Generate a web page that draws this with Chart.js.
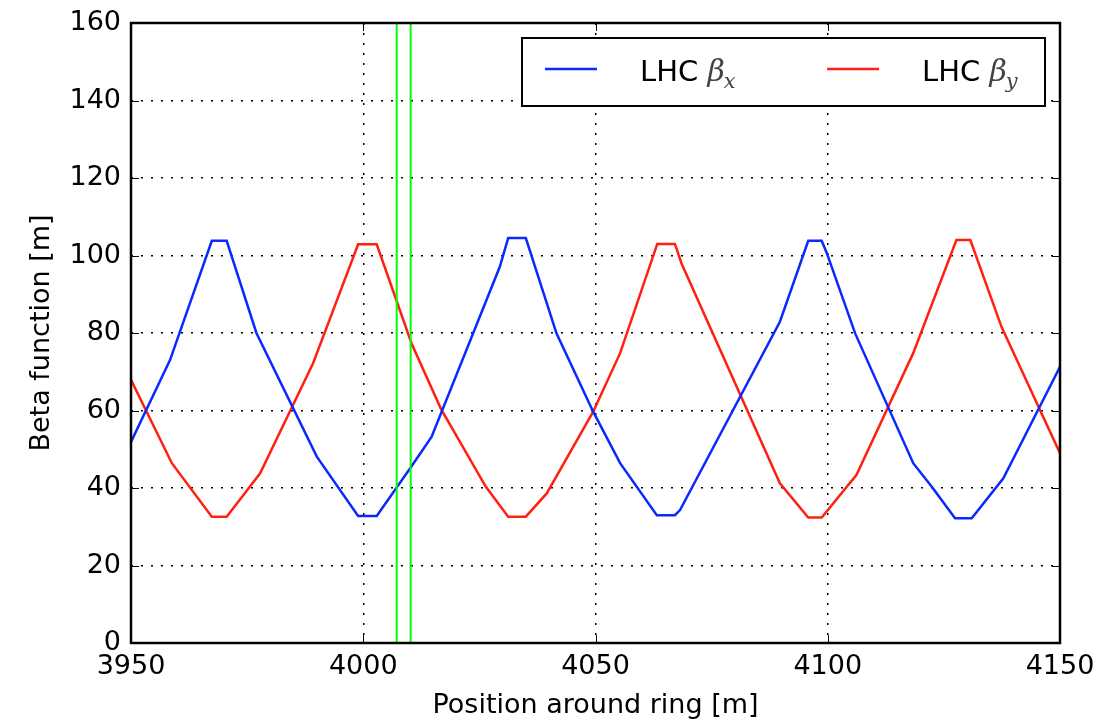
<!DOCTYPE html>
<html>
<head>
<meta charset="utf-8">
<script src="https://cdn.jsdelivr.net/npm/chart.js@4"></script>
<style>
  html, body { margin: 0; padding: 0; background: #fff; }
  #wrap { width: 1103px; height: 722px; }
</style>
</head>
<body>
<div id="wrap"><canvas id="myChart"></canvas></div>
<script>
// positions [m] and beta values [m]
var betaxPos = [3950, 3958.4, 3967.4, 3970.6, 3977.0, 3990.0, 3998.9, 4002.9, 4010.1, 4014.7, 4029.4, 4031.2, 4035.0, 4041.6, 4049.5, 4055.3, 4063.2, 4067.1, 4068.2, 4089.7, 4095.8, 4098.7, 4099.8, 4105.9, 4118.4, 4122.4, 4127.4, 4131.0, 4137.8, 4150];
var betaxVal = [51.9, 73.0, 103.8, 103.8, 80.0, 48.1, 32.8, 32.8, 45.1, 53.2, 97.1, 104.5, 104.5, 79.9, 59.7, 46.4, 33.0, 33.0, 34.3, 82.9, 103.8, 103.8, 100.6, 79.9, 46.4, 40.3, 32.2, 32.2, 42.5, 71.3];
var betayPos = [3950, 3958.8, 3967.4, 3970.6, 3977.8, 3989.2, 3998.9, 4002.9, 4010.4, 4016.7, 4026.4, 4031.2, 4035.0, 4039.5, 4049.5, 4055.3, 4063.3, 4067.1, 4068.5, 4089.7, 4095.8, 4098.7, 4106.2, 4118.4, 4127.7, 4130.7, 4137.4, 4150];
var betayVal = [67.9, 46.4, 32.6, 32.6, 43.8, 72.2, 102.9, 102.9, 77.3, 60.5, 40.3, 32.6, 32.6, 38.6, 59.7, 74.8, 103.0, 103.0, 98.0, 41.2, 32.4, 32.4, 43.4, 74.8, 104.0, 104.0, 81.6, 49.0];
var markerPos = [4007.2, 4010.2];   // green vertical markers
var seriesNames = ['LHC', 'LHC'];
var seriesSubs = ['x', 'y'];
var seriesColors = ['#0a28ff', '#ff2010'];

var xTicks = [3950, 4000, 4050, 4100, 4150];
var yTicks = [0, 20, 40, 60, 80, 100, 120, 140, 160];

function toPoints(xs, ys) {
  return xs.map(function(x, i) { return {x: x, y: ys[i]}; });
}

var datasets = [];
markerPos.forEach(function(p) {
  datasets.push({
    data: [{x: p, y: yTicks[0]}, {x: p, y: yTicks[yTicks.length - 1]}],
    borderColor: '#00ff00', borderWidth: 2, pointRadius: 0
  });
});
datasets.push({data: toPoints(betaxPos, betaxVal), borderColor: seriesColors[0], borderWidth: 2.5, pointRadius: 0});
datasets.push({data: toPoints(betayPos, betayVal), borderColor: seriesColors[1], borderWidth: 2.5, pointRadius: 0});

// frame, inward ticks and the legend box
var framePlugin = {
  id: 'frame',
  afterDraw: function(chart) {
    var ctx = chart.ctx, a = chart.chartArea;
    var xs = chart.scales.x, ys = chart.scales.y;
    ctx.save();
    ctx.strokeStyle = '#000';
    ctx.lineWidth = 1;
    xTicks.forEach(function(t) {
      var px = Math.round(xs.getPixelForValue(t)) + 0.5;
      ctx.beginPath();
      ctx.moveTo(px, a.bottom); ctx.lineTo(px, a.bottom - 8);
      ctx.moveTo(px, a.top); ctx.lineTo(px, a.top + 8);
      ctx.stroke();
    });
    yTicks.forEach(function(t) {
      var py = Math.round(ys.getPixelForValue(t)) + 0.5;
      ctx.beginPath();
      ctx.moveTo(a.left, py); ctx.lineTo(a.left + 8, py);
      ctx.moveTo(a.right, py); ctx.lineTo(a.right - 8, py);
      ctx.stroke();
    });
    ctx.lineWidth = 2.5;
    ctx.strokeRect(a.left, a.top, a.right - a.left, a.bottom - a.top);

    // legend
    var bx = a.right - 538, by = a.top + 15, bw = 523, bh = 68;
    ctx.fillStyle = '#fff';
    ctx.fillRect(bx, by, bw, bh);
    ctx.lineWidth = 2;
    ctx.strokeRect(bx, by, bw, bh);
    var cy = by + 31;
    for (var i = 0; i < 2; i++) {
      var ox = bx + 23 + i * 282;
      ctx.strokeStyle = seriesColors[i];
      ctx.lineWidth = 2.5;
      ctx.beginPath(); ctx.moveTo(ox, cy); ctx.lineTo(ox + 52, cy); ctx.stroke();
      ctx.fillStyle = '#000';
      ctx.textBaseline = 'alphabetic';
      ctx.font = '29px "DejaVu Sans"';
      ctx.fillText(seriesNames[i] + ' ', ox + 95, cy + 12);
      var w = ctx.measureText(seriesNames[i] + ' ').width;
      ctx.font = 'italic 30px "DejaVu Serif"';
      ctx.fillStyle = '#444';
      ctx.fillText('\u03b2', ox + 95 + w, cy + 12);
      var wb = ctx.measureText('\u03b2').width;
      ctx.font = 'italic 21px "DejaVu Serif"';
      ctx.fillText(seriesSubs[i], ox + 95 + w + wb - 1, cy + 19);
    }
    ctx.restore();
  }
};

var tickFont = { family: 'DejaVu Sans', size: 27 };
var ctx = document.getElementById('myChart').getContext('2d');
var chart = new Chart(ctx, {
  type: 'line',
  data: { datasets: datasets },
  options: {
    responsive: true,
    maintainAspectRatio: false,
    animation: false,
    layout: { padding: { left: 26, right: 43, top: 23, bottom: 0 } },
    plugins: { legend: { display: false }, tooltip: { enabled: false } },
    scales: {
      x: {
        type: 'linear', min: 3950, max: 4150,
        afterBuildTicks: function(s) { s.ticks = xTicks.map(function(v) { return {value: v}; }); },
        afterFit: function(s) { s.height = 79; s.paddingLeft = 0; s.paddingRight = 0; },
        ticks: { color: '#000', font: tickFont, padding: 8, maxRotation: 0, callback: function(v) { return String(v); } },
        grid: { color: '#000', lineWidth: 1.5, drawTicks: false },
        border: { display: false, dash: [2, 8] },
        title: { display: true, text: 'Position around ring [m]', color: '#000', font: tickFont, padding: { top: 6, bottom: 0 } }
      },
      y: {
        min: 0, max: 160,
        afterBuildTicks: function(s) { s.ticks = yTicks.map(function(v) { return {value: v}; }); },
        afterFit: function(s) { s.width = 105; s.paddingTop = 0; s.paddingBottom = 0; },
        ticks: { color: '#000', font: tickFont, padding: 10 },
        grid: { color: '#000', lineWidth: 1.5, drawTicks: false },
        border: { display: false, dash: [2, 8] },
        title: { display: true, text: 'Beta function [m]', color: '#000', font: tickFont, padding: 0 }
      }
    }
  },
  plugins: [framePlugin]
});
</script>
</body>
</html>
